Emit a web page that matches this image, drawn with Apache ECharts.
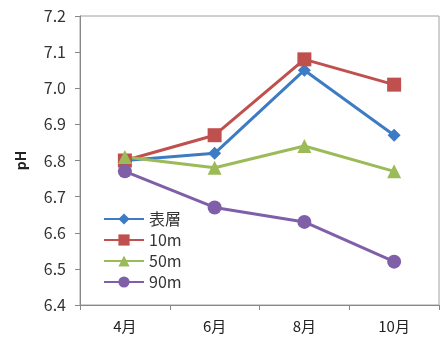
<!DOCTYPE html>
<html><head><meta charset="utf-8">
<script src="https://cdn.jsdelivr.net/npm/echarts@6/dist/echarts.min.js"></script>
<style>html,body{margin:0;padding:0;background:#fff}#c{width:445px;height:345px}</style>
</head><body><div id="c"></div>
<script>
const categories = ['4月','6月','8月','10月'];
const yTicks = [6.4,6.5,6.6,6.7,6.8,6.9,7.0,7.1,7.2];
const seriesNames = ['表層','10m','50m','90m'];
const surface = [6.80, 6.82, 7.05, 6.87];
const m10 = [6.80, 6.87, 7.08, 7.01];
const m50 = [6.81, 6.78, 6.84, 6.77];
const m90 = [6.77, 6.67, 6.63, 6.52];
const values = [surface, m10, m50, m90];
const colors = ['#3d7cc4','#c0504d','#9bbb59','#7f60a8'];
const symbols = ['diamond','rect','triangle','circle'];
const symSizes = [13, 14, 14, 14];
const font = '"Noto Sans CJK JP", "Open Sans", sans-serif';

const chart = echarts.init(document.getElementById('c'));
chart.setOption({
  animation: false,
  textStyle: {fontFamily: font},
  grid: {left: 80, right: 6, top: 16, bottom: 40, show: true, borderColor: '#a0a0a0', borderWidth: 1},
  legend: {
    orient: 'vertical', left: 98, top: 206, itemGap: 5,
    itemWidth: 40, itemHeight: 14,
    textStyle: {fontSize: 16, color: '#333', fontFamily: font},
    data: seriesNames
  },
  xAxis: {
    type: 'category', data: categories, boundaryGap: true,
    axisLine: {lineStyle: {color: '#888'}},
    axisTick: {show: true, length: 5, lineStyle: {color: '#888'}},
    axisLabel: {fontSize: 15, color: '#222', margin: 14, fontFamily: font}
  },
  yAxis: {
    type: 'value', min: 6.4, max: 7.2, interval: 0.1,
    name: 'pH', nameLocation: 'middle', nameGap: 52, nameRotate: 90,
    nameTextStyle: {fontSize: 14, fontWeight: 'bold', color: '#222', fontFamily: font},
    splitLine: {show: false},
    axisLine: {show: true, lineStyle: {color: '#888'}},
    axisTick: {show: true, length: 5, lineStyle: {color: '#888'}},
    axisLabel: {fontSize: 16, color: '#333', margin: 14, fontFamily: font,
      formatter: v => v.toFixed(1)}
  },
  series: seriesNames.map((n, i) => ({
    name: n, type: 'line', data: values[i],
    symbol: symbols[i], symbolSize: symSizes[i],
    lineStyle: {width: 3, color: colors[i]},
    itemStyle: {color: colors[i]}
  }))
});
</script></body></html>
